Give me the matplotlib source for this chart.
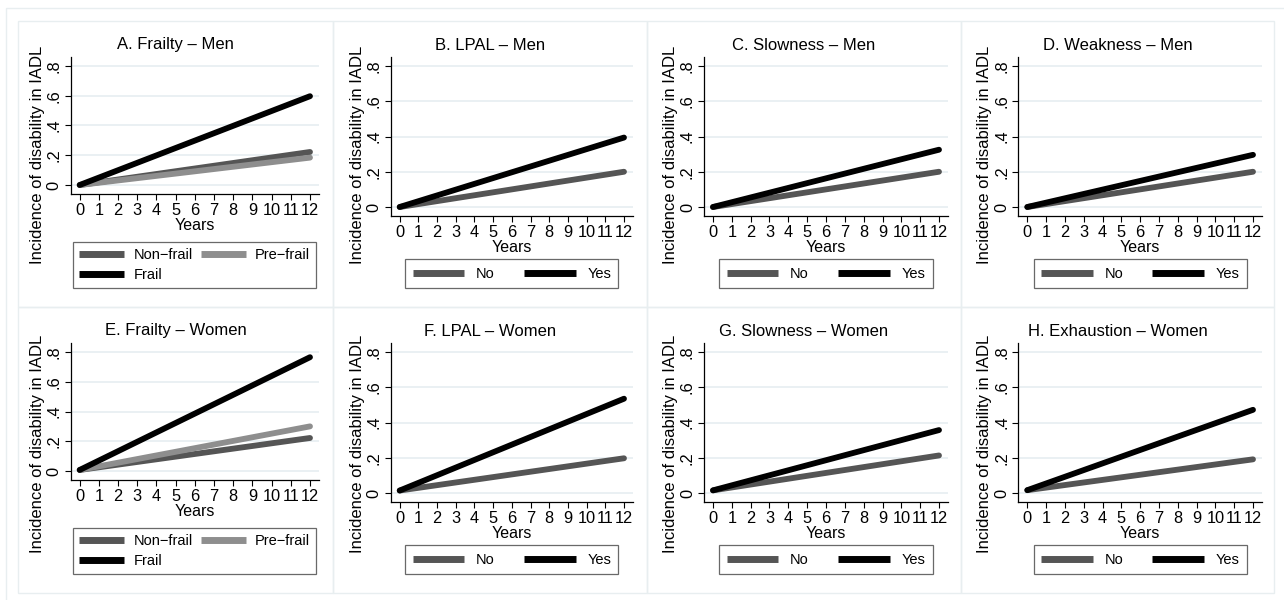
#!/usr/bin/env python3
import matplotlib
matplotlib.use('Agg')
import matplotlib.pyplot as plt
from matplotlib.patches import Rectangle

# Data: predicted incidence at start and end of follow-up
years = [0, 12]
xticks = list(range(13))
yticks = [0.0, 0.2, 0.4, 0.6, 0.8]
ytick_labels = ['0', '.2', '.4', '.6', '.8']

titles = ['A. Frailty \u2013 Men', 'B. LPAL \u2013 Men', 'C. Slowness \u2013 Men',
          'D. Weakness \u2013 Men', 'E. Frailty \u2013 Women', 'F. LPAL \u2013 Women',
          'G. Slowness \u2013 Women', 'H. Exhaustion \u2013 Women']

frailty_labels = ['Non\u2212frail', 'Pre\u2212frail', 'Frail']
yesno_labels = ['No', 'Yes']

a_nonfrail = [0.0, 0.222]
a_prefrail = [0.0, 0.184]
a_frail = [0.0, 0.597]
b_no = [0.0, 0.200]
b_yes = [0.0, 0.394]
c_no = [0.0, 0.200]
c_yes = [0.0, 0.325]
d_no = [0.0, 0.200]
d_yes = [0.0, 0.296]
e_nonfrail = [0.007, 0.222]
e_prefrail = [0.007, 0.300]
e_frail = [0.007, 0.765]
f_no = [0.014, 0.197]
f_yes = [0.014, 0.535]
g_no = [0.015, 0.213]
g_yes = [0.015, 0.357]
h_no = [0.016, 0.191]
h_yes = [0.016, 0.472]

panel_series = [
    [a_nonfrail, a_prefrail, a_frail],
    [b_no, b_yes], [c_no, c_yes], [d_no, d_yes],
    [e_nonfrail, e_prefrail, e_frail],
    [f_no, f_yes], [g_no, g_yes], [h_no, h_yes],
]

C_LOW = '#555555'
C_MID = '#8e8e8e'
C_HIGH = '#000000'
GRID = '#e6eef1'
BOX = '#e8eef0'

plt.rcParams['font.family'] = ['Liberation Sans', 'DejaVu Sans']

W, H = 1284, 600
fig = plt.figure(figsize=(W / 100, H / 100), dpi=100)


def fx(x):
    return x / W


def fy(y):
    return 1 - y / H


# outer frame and panel frames (pixel layout of the combined graph)
fig.patches.append(Rectangle((fx(6), fy(620)), fx(1300) - fx(6), fy(8) - fy(620),
                             transform=fig.transFigure, fill=False, ec=BOX, lw=1))
col_edges = [18, 333, 647, 961, 1274]
row_edges = [21, 307, 593]
for r in range(2):
    for c in range(4):
        fig.patches.append(Rectangle((fx(col_edges[c]), fy(row_edges[r + 1])),
                                     fx(col_edges[c + 1]) - fx(col_edges[c]),
                                     fy(row_edges[r]) - fy(row_edges[r + 1]),
                                     transform=fig.transFigure, fill=False,
                                     ec=BOX, lw=1))

ax_left = [70.7, 390.7, 704, 1018.3]
ax_right = [319, 633, 948, 1262]
ax_top = [57, 343]
ax_bottom = [[194, 216, 216, 216], [480, 502, 502, 502]]
leg_bottom = [288, 574]
title_y = [45, 331]
ylabel_y = [155, 444]
MARGIN = 9  # px of padding inside the plot region
LEG_FS = 10.5

for i, series in enumerate(panel_series):
    r, c = divmod(i, 4)
    l, rr = ax_left[c], ax_right[c]
    t, b = ax_top[r], ax_bottom[r][c]
    ax = fig.add_axes([fx(l), fy(b), fx(rr) - fx(l), fy(t) - fy(b)])
    w_px, h_px = rr - l, b - t
    dx = 12 * MARGIN / (w_px - 2 * MARGIN)
    dy = 0.8 * MARGIN / (h_px - 2 * MARGIN)
    ax.set_xlim(-dx, 12 + dx)
    ax.set_ylim(-dy, 0.8 + dy)

    if len(series) == 3:
        colors = [C_LOW, C_MID, C_HIGH]
        labels = frailty_labels
    else:
        colors = [C_LOW, C_HIGH]
        labels = yesno_labels
    handles = []
    for vals, col, lab in zip(series, colors, labels):
        ln, = ax.plot(years, vals, color=col, lw=4.2, solid_capstyle='round',
                      label=lab)
        handles.append(ln)

    ax.set_xticks(xticks)
    ax.set_yticks(yticks)
    ax.set_yticklabels(ytick_labels, rotation=90, va='center')
    ax.tick_params(axis='both', labelsize=11.8, length=4, width=0.8, pad=2.5)
    ax.grid(axis='y', color=GRID, lw=1.2)
    ax.grid(axis='x', visible=False)
    ax.set_axisbelow(True)
    for s in ['top', 'right']:
        ax.spines[s].set_visible(False)
    for s in ['left', 'bottom']:
        ax.spines[s].set_linewidth(0.9)
    ax.set_xlabel('Years', fontsize=11.5, labelpad=0)
    ax.set_ylabel('Incidence of disability in IADL', fontsize=12)
    ax.yaxis.set_label_coords(-26 / w_px, (b - ylabel_y[r]) / h_px)

    fig.text(fx((col_edges[c] + col_edges[c + 1]) / 2), fy(title_y[r]), titles[i],
             fontsize=12, ha='center', va='center')

    # legend below the plot region, centred under the axes
    if len(series) == 3:
        order = [handles[0], handles[2], handles[1]]
        opts = dict(handlelength=3.05, handletextpad=0.65, columnspacing=0.6,
                    borderpad=0.42, labelspacing=0.38)
    else:
        order = handles
        opts = dict(handlelength=3.55, handletextpad=0.8, columnspacing=2.0,
                    borderpad=0.5)
    cx = (l + rr) / 2
    leg = ax.legend(handles=order, labels=[h.get_label() for h in order],
                    ncol=2, loc='lower center',
                    bbox_to_anchor=(fx(cx), fy(leg_bottom[r])),
                    bbox_transform=fig.transFigure, fontsize=LEG_FS,
                    borderaxespad=0, fancybox=False, frameon=True,
                    edgecolor='#444444', **opts)
    leg.get_frame().set_linewidth(0.9)
    for lh in leg.get_lines():
        lh.set_linewidth(5)
        lh.set_solid_capstyle('butt')

fig.savefig('out.png', dpi=100)
